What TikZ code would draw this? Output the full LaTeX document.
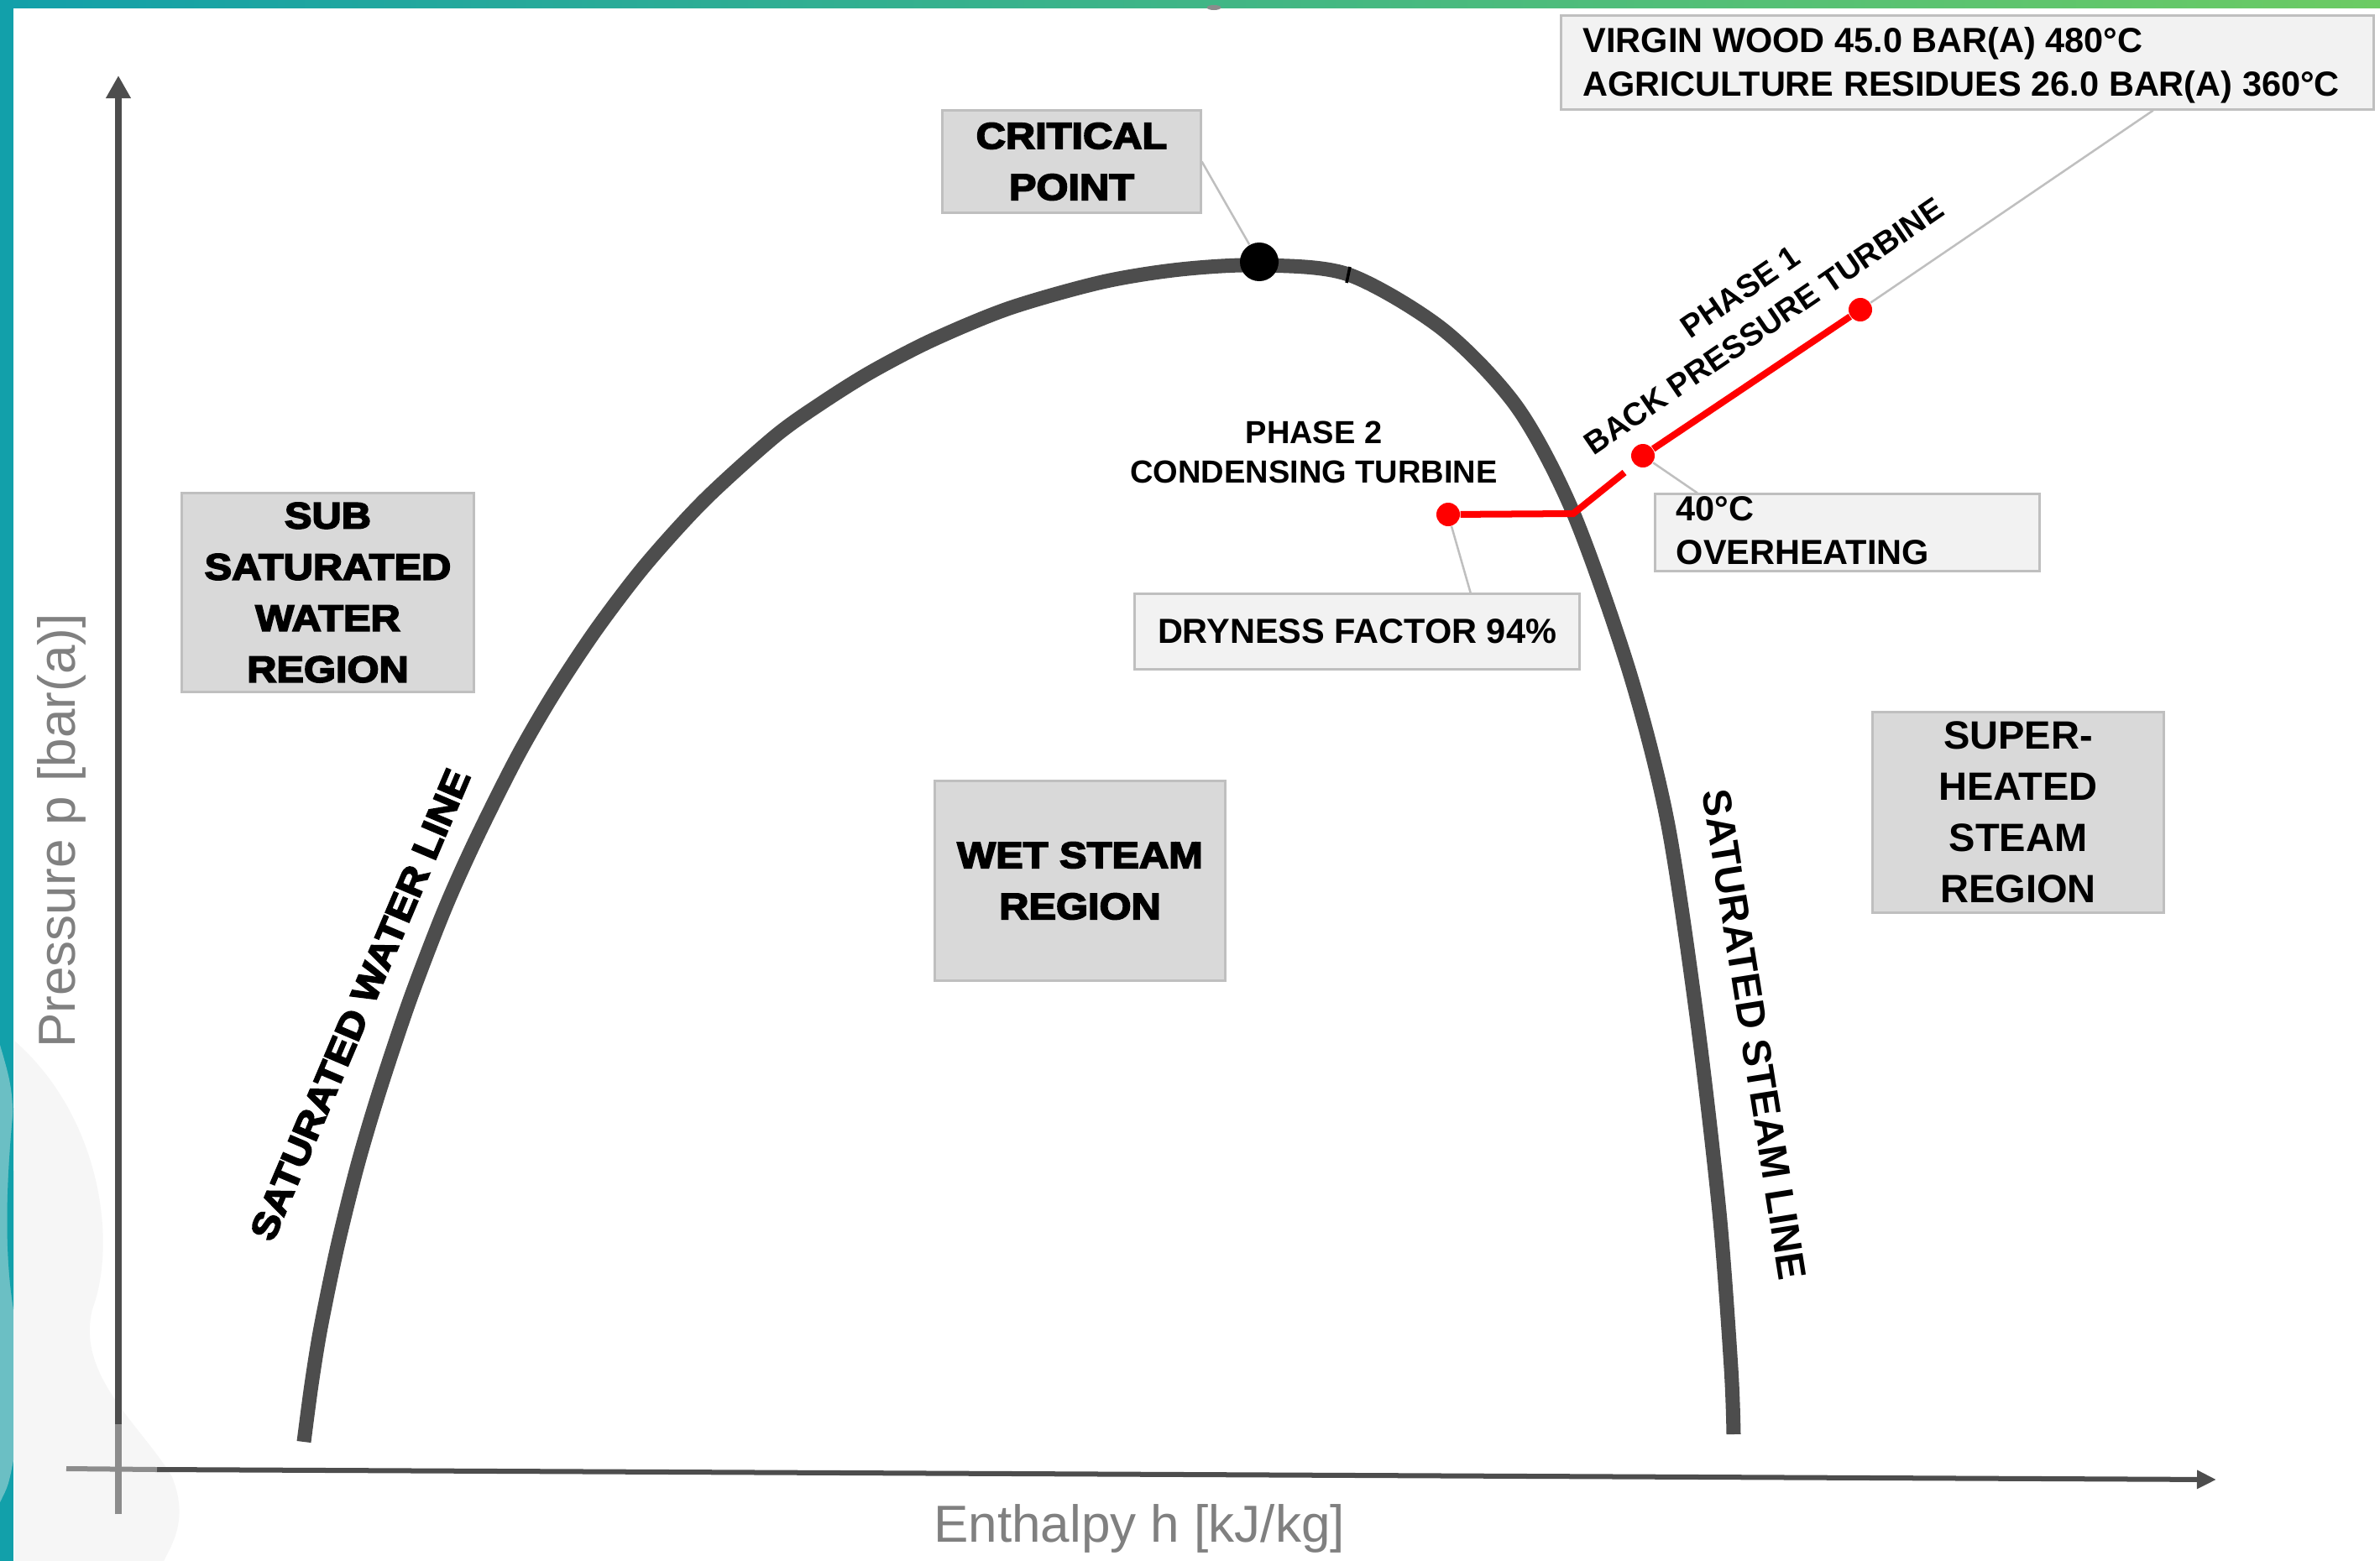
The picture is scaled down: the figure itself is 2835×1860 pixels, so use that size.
\documentclass[tikz,border=0pt]{standalone}
\usepackage{fontspec}
\setmainfont{Liberation Sans}
\newfontfamily\blk[FakeStretch=1.11,FakeBold=4]{Liberation Sans Bold}
\usetikzlibrary{arrows.meta,calc}
\definecolor{tealA}{HTML}{12A0AA}
\definecolor{greenA}{HTML}{6CCB63}
\definecolor{lteal}{HTML}{6BBFC4}
\definecolor{axcol}{HTML}{4D4D4D}
\definecolor{axlight}{HTML}{8C8C8C}
\definecolor{boxfill}{HTML}{D9D9D9}
\definecolor{lblfill}{HTML}{F2F2F2}
\definecolor{boxline}{HTML}{BFBFBF}
\definecolor{axtext}{HTML}{808080}
\definecolor{flamegray}{HTML}{F6F6F6}
\tikzset{
  regbox/.style={draw=boxline, fill=boxfill, line width=0.03cm, inner sep=0, align=center,
    font=\blk\fontsize{12.5}{17.36}\selectfont},
  lblbox/.style={draw=boxline, fill=lblfill, line width=0.03cm, inner sep=0},
  lbltxt/.style={inner sep=0, align=left, font=\bfseries\fontsize{11.8}{14.8}\selectfont},
  phasetxt/.style={inner sep=0, align=center, font=\bfseries\fontsize{10.81}{13.37}\selectfont},
  axlab/.style={inner sep=0, text=axtext, font=\fontsize{17.64}{20}\selectfont},
  rdot/.style={circle, fill=red, minimum size=0.28cm, inner sep=0},
  redline/.style={draw=red, line width=0.08cm},
  callout/.style={draw=boxline, line width=0.025cm},
  axisline/.style={draw=axcol, line width=0.07cm}
}
\begin{document}
\begin{tikzpicture}[x=0.01cm, y=-0.01cm]
\useasboundingbox (0,0) rectangle (2835,1860);
% background
\fill[white] (0,0) rectangle (2835,1860);
\fill[flamegray] (17,1240) .. controls (120,1330) and (140,1480) .. (110,1560)
  .. controls (90,1640) and (170,1700) .. (205,1760) .. controls (225,1810) and (205,1840) .. (195,1860)
  -- (17,1860) -- cycle;
\shade[left color=tealA, right color=greenA] (0,0) rectangle (2835,9);
\fill[tealA] (0,0) rectangle (16,1860);
\fill[lteal] (0,1245) .. controls (16,1300) .. (16,1400) -- (16,1740) .. controls (10,1770) .. (0,1790) -- cycle;
\fill[tealA] (16,1320) .. controls (6,1420) and (6,1500) .. (16,1560) -- cycle;
\fill[axlight] (1446,9) ellipse [x radius=0.085cm, y radius=0.03cm];

% axes
\coordinate (ybot) at (141,1804);
\coordinate (ylight) at (141,1697);
\coordinate (ytop) at (141,90);
\coordinate (xl) at (79,1750);
\coordinate (xlight) at (187,1751);
\coordinate (xr) at (2640,1763);
\draw[axisline, -{Triangle[width=0.28cm,length=0.27cm]}] (ylight) -- (ytop);
\draw[draw=axlight, line width=0.07cm] (ybot) -- (ylight);
\draw[axisline, line width=0.06cm, -{Triangle[width=0.21cm,length=0.23cm]}] (xlight) -- (xr);
\draw[draw=axlight, line width=0.06cm] (xl) -- (xlight);

% saturation dome
\draw[draw=axcol, line width=0.17cm] plot[smooth, tension=0.5] coordinates {
 (362,1718) (371,1650) (382,1582) (402,1485) (426,1388) (452,1300) (488,1192) (529,1085)
 (567,1000) (616,902) (660,826) (711,749) (769,673) (839,596) (923,520) (979,480) (1038,443)
 (1111,405) (1203,367) (1313,336) (1406,321) (1500,316) (1606,327) (1718,392) (1807,485)
 (1874,611) (1941,801) (1986,978) (2021,1211) (2048,1444) (2062,1630) (2065,1709)};
\draw[black, line width=0.035cm] (1608,318) -- (1604,337);

% region boxes
\node[regbox, minimum width=3.07cm, minimum height=1.21cm] (crit) at (1276.5,192.5) {CRITICAL\\POINT};
\node[regbox, minimum width=3.47cm, minimum height=2.36cm] (sub) at (390.5,706) {SUB\\SATURATED\\WATER\\REGION};
\node[regbox, minimum width=3.45cm, minimum height=2.37cm] (wet) at (1286.5,1049.5) {WET STEAM\\REGION};
\node[regbox, font=\bfseries\fontsize{13.37}{17.36}\selectfont, minimum width=3.46cm, minimum height=2.38cm] (sup) at (2404,968) {SUPER-\\HEATED\\STEAM\\REGION};

% label boxes
\node[lblbox, minimum width=9.67cm, minimum height=1.11cm] (virgin) at (2343.5,74.5) {};
\node[lbltxt, anchor=west] (virgintxt) at (1885,78) {VIRGIN WOOD 45.0 BAR(A) 480°C\\AGRICULTURE RESIDUES 26.0 BAR(A) 360°C};
\node[lblbox, lbltxt, align=center, minimum width=5.29cm, minimum height=0.89cm] (dry) at (1616.5,752.5) {DRYNESS FACTOR 94\%};
\node[lblbox, minimum width=4.57cm, minimum height=0.91cm] (over) at (2200.5,634.5) {};
\node[lbltxt, anchor=west] (overtxt) at (1996,632) {40°C\\OVERHEATING};

% phase texts
\node[phasetxt] (ph2) at (1565,539) {PHASE 2\\CONDENSING TURBINE};
\node[phasetxt, font=\bfseries\fontsize{10.81}{14.2}\selectfont, rotate=34.4] (ph1) at (2087,368) {PHASE 1\\BACK PRESSURE TURBINE};

% line labels
\node[inner sep=0, font=\blk\fontsize{12.5}{15}\selectfont, rotate=67] (swl) at (429,1197) {SATURATED WATER LINE};
\node[inner sep=0, font=\bfseries\fontsize{13.6}{16}\selectfont, rotate=-81] (ssl) at (2090,1233) {SATURATED STEAM LINE};

% axis labels
\node[axlab, rotate=90] (plab) at (73,990) {Pressure p [bar(a)]};
\node[axlab] (hlab) at (1357,1821) {Enthalpy h [kJ/kg]};

% points
\node[circle, fill=black, minimum size=0.46cm, inner sep=0] (cp) at (1500,312) {};
\node[rdot] (d1) at (1725,613) {};
\node[rdot] (d2) at (1957,543) {};
\node[rdot] (d3) at (2216,369) {};
\coordinate (j) at (1874,612);
\coordinate (g) at (1935,563);

% red process lines
\draw[redline] (d1) -- (j) -- (g);
\draw[redline] (d2) -- (d3);

% callouts
\draw[callout] (crit.east) -- (cp);
\draw[callout] ($(virgin.south west)!0.728!(virgin.south east)$) -- (d3);
\draw[callout] ($(over.north west)!0.112!(over.north east)$) -- (d2);
\draw[callout] ($(dry.north west)!0.754!(dry.north east)$) -- (d1);
\end{tikzpicture}
\end{document}
